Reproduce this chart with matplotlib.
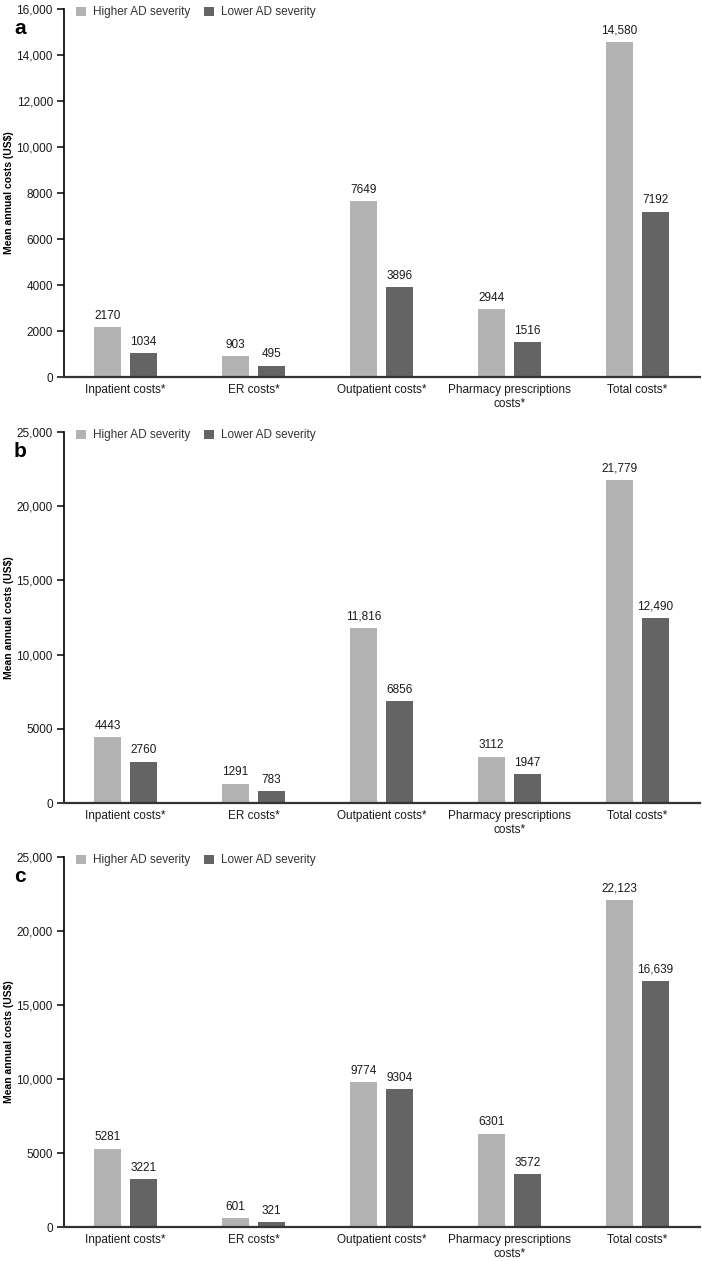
import numpy as np
import matplotlib
matplotlib.use("Agg")
import matplotlib.pyplot as plt
from matplotlib.ticker import FuncFormatter

categories = ["Inpatient costs*", "ER costs*", "Outpatient costs*",
              "Pharmacy prescriptions\ncosts*", "Total costs*"]
series_names = ["Higher AD severity", "Lower AD severity"]

higher_a = [2170, 903, 7649, 2944, 14580]
lower_a = [1034, 495, 3896, 1516, 7192]
higher_b = [4443, 1291, 11816, 3112, 21779]
lower_b = [2760, 783, 6856, 1947, 12490]
higher_c = [5281, 601, 9774, 6301, 22123]
lower_c = [3221, 321, 9304, 3572, 16639]

panels = [
    ("a", higher_a, lower_a, 16000, 2000),
    ("b", higher_b, lower_b, 25000, 5000),
    ("c", higher_c, lower_c, 25000, 5000),
]

light = "#b3b3b3"
dark = "#646464"
plt.rcParams["font.family"] = ["Liberation Sans", "DejaVu Sans"]
narrow = ["Liberation Sans Narrow", "Liberation Sans", "DejaVu Sans"]


def fmt(v):
    v = int(round(v))
    return f"{v:,}" if v >= 10000 else str(v)


fig = plt.figure(figsize=(7.02, 12.61), dpi=100)
W, H = 702, 1261
# top and bottom pixel rows of each panel's axes
boxes = [(9, 377), (432, 803), (857, 1227)]
left_px, right_px = 64, 700

x = np.arange(len(categories))
bw = 0.21
off = 0.141

for (letter, hi, lo, ymax, step), (top, bot) in zip(panels, boxes):
    ax = fig.add_axes([left_px / W, 1 - bot / H, (right_px - left_px) / W, (bot - top) / H])
    b1 = ax.bar(x - off, hi, bw, color=light, label=series_names[0])
    b2 = ax.bar(x + off, lo, bw, color=dark, label=series_names[1])
    for bars, vals in ((b1, hi), (b2, lo)):
        for r, v in zip(bars, vals):
            ax.annotate(fmt(v), (r.get_x() + r.get_width() / 2, v),
                        xytext=(0, 4), textcoords="offset points",
                        ha="center", va="bottom", fontsize=8.5,
                        family=narrow, color="#1a1a1a")
    ax.set_xlim(-0.48, 4.49)
    ax.set_ylim(0, ymax)
    ax.set_yticks(np.arange(0, ymax + 1, step))
    ax.yaxis.set_major_formatter(FuncFormatter(lambda v, p: fmt(v)))
    ax.set_xticks(x)
    ax.set_xticklabels(categories, family=narrow, fontsize=8.5, color="#1a1a1a")
    ax.tick_params(axis="x", length=0, pad=5)
    ax.tick_params(axis="y", length=5, width=1.2, pad=3, labelsize=8.5, colors="#1a1a1a")
    for lab in ax.get_yticklabels():
        lab.set_family(narrow)
    for s in ("top", "right"):
        ax.spines[s].set_visible(False)
    ax.spines["left"].set_linewidth(1.2)
    ax.spines["bottom"].set_linewidth(1.6)
    ax.spines["bottom"].set_color("#333333")
    ax.set_ylabel("Mean annual costs (US$)", fontsize=7.5, fontweight="bold")
    ax.yaxis.set_label_coords(-0.078, 0.5)
    ax.legend(loc="upper left", bbox_to_anchor=(0.012, 1.02), ncol=2, frameon=False,
              fontsize=8.5, handlelength=0.8, handleheight=0.8, handletextpad=0.6,
              columnspacing=1.2, labelcolor="#333333", borderaxespad=0)
    fig.text(14 / W, 1 - (top + 19) / H, letter, fontsize=15, fontweight="bold",
             ha="left", va="center")

fig.savefig("out.png", dpi=100)
